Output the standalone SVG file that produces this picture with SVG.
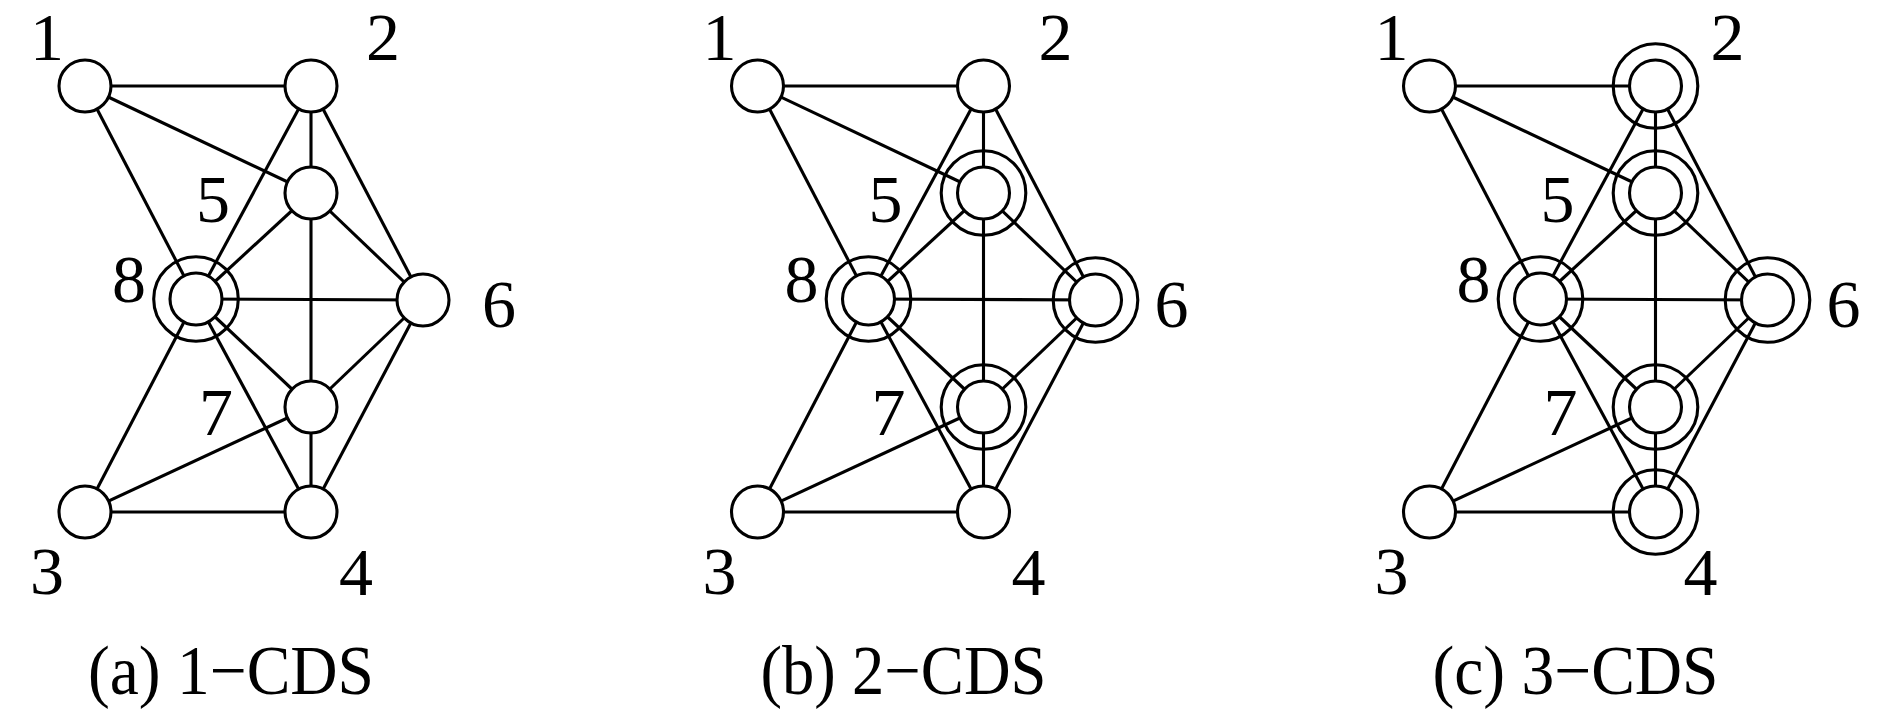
<svg xmlns="http://www.w3.org/2000/svg" width="1890" height="713" viewBox="0 0 1890 713">
<style>
.e{stroke:#000;stroke-width:3.1;fill:none}
.n{fill:#fff;stroke:#000;stroke-width:3.1}
.r{fill:none;stroke:#000;stroke-width:3.1}
</style>
<rect width="1890" height="713" fill="#fff"/>
<defs>
<g id="edges">
<line class="e" x1="85" y1="86" x2="311" y2="86"/>
<line class="e" x1="85" y1="86" x2="311" y2="193"/>
<line class="e" x1="85" y1="86" x2="196" y2="299"/>
<line class="e" x1="311" y1="86" x2="311" y2="193"/>
<line class="e" x1="311" y1="86" x2="196" y2="299"/>
<line class="e" x1="311" y1="86" x2="423" y2="300"/>
<line class="e" x1="311" y1="193" x2="196" y2="299"/>
<line class="e" x1="311" y1="193" x2="423" y2="300"/>
<line class="e" x1="311" y1="193" x2="311" y2="407"/>
<line class="e" x1="196" y1="299" x2="423" y2="300"/>
<line class="e" x1="196" y1="299" x2="311" y2="407"/>
<line class="e" x1="196" y1="299" x2="311" y2="512"/>
<line class="e" x1="196" y1="299" x2="85" y2="512"/>
<line class="e" x1="423" y1="300" x2="311" y2="407"/>
<line class="e" x1="423" y1="300" x2="311" y2="512"/>
<line class="e" x1="311" y1="407" x2="311" y2="512"/>
<line class="e" x1="311" y1="407" x2="85" y2="512"/>
<line class="e" x1="85" y1="512" x2="311" y2="512"/>
</g>
</defs>
<g id="connectors">
<use href="#edges"/>
<use href="#edges" x="672.5"/>
<use href="#edges" x="1344.5"/>
</g>

<g id="panel-a">
<g id="a-n1"><circle class="n" cx="85" cy="86" r="26"/><text font-family="Liberation Serif" font-size="68" text-anchor="middle" x="47" y="60">1</text></g>
<g id="a-n2"><circle class="n" cx="311" cy="86" r="26"/><text font-family="Liberation Serif" font-size="68" text-anchor="middle" x="383" y="60">2</text></g>
<g id="a-n5"><circle class="n" cx="311" cy="193" r="26"/><text font-family="Liberation Serif" font-size="68" text-anchor="middle" x="213" y="222">5</text></g>
<g id="a-n8"><circle class="r" cx="196" cy="299" r="42.3"/><circle class="n" cx="196" cy="299" r="26"/><text font-family="Liberation Serif" font-size="68" text-anchor="middle" x="129" y="302">8</text></g>
<g id="a-n6"><circle class="n" cx="423" cy="300" r="26"/><text font-family="Liberation Serif" font-size="68" text-anchor="middle" x="499" y="327">6</text></g>
<g id="a-n7"><circle class="n" cx="311" cy="407" r="26"/><text font-family="Liberation Serif" font-size="68" text-anchor="middle" x="216" y="435">7</text></g>
<g id="a-n3"><circle class="n" cx="85" cy="512" r="26"/><text font-family="Liberation Serif" font-size="68" text-anchor="middle" x="47" y="594">3</text></g>
<g id="a-n4"><circle class="n" cx="311" cy="512" r="26"/><text font-family="Liberation Serif" font-size="68" text-anchor="middle" x="356" y="595">4</text></g>
<text font-family="Liberation Serif" font-size="70" text-anchor="middle" x="231" y="694" textLength="286" lengthAdjust="spacingAndGlyphs">(a) 1−CDS</text>
</g>

<g id="panel-b" transform="translate(672.5,0)">
<g id="b-n1"><circle class="n" cx="85" cy="86" r="26"/><text font-family="Liberation Serif" font-size="68" text-anchor="middle" x="47" y="60">1</text></g>
<g id="b-n2"><circle class="n" cx="311" cy="86" r="26"/><text font-family="Liberation Serif" font-size="68" text-anchor="middle" x="383" y="60">2</text></g>
<g id="b-n5"><circle class="r" cx="311" cy="193" r="42.3"/><circle class="n" cx="311" cy="193" r="26"/><text font-family="Liberation Serif" font-size="68" text-anchor="middle" x="213" y="222">5</text></g>
<g id="b-n8"><circle class="r" cx="196" cy="299" r="42.3"/><circle class="n" cx="196" cy="299" r="26"/><text font-family="Liberation Serif" font-size="68" text-anchor="middle" x="129" y="302">8</text></g>
<g id="b-n6"><circle class="r" cx="423" cy="300" r="42.3"/><circle class="n" cx="423" cy="300" r="26"/><text font-family="Liberation Serif" font-size="68" text-anchor="middle" x="499" y="327">6</text></g>
<g id="b-n7"><circle class="r" cx="311" cy="407" r="42.3"/><circle class="n" cx="311" cy="407" r="26"/><text font-family="Liberation Serif" font-size="68" text-anchor="middle" x="216" y="435">7</text></g>
<g id="b-n3"><circle class="n" cx="85" cy="512" r="26"/><text font-family="Liberation Serif" font-size="68" text-anchor="middle" x="47" y="594">3</text></g>
<g id="b-n4"><circle class="n" cx="311" cy="512" r="26"/><text font-family="Liberation Serif" font-size="68" text-anchor="middle" x="356" y="595">4</text></g>
<text font-family="Liberation Serif" font-size="70" text-anchor="middle" x="231" y="694" textLength="286" lengthAdjust="spacingAndGlyphs">(b) 2−CDS</text>
</g>

<g id="panel-c" transform="translate(1344.5,0)">
<g id="c-n1"><circle class="n" cx="85" cy="86" r="26"/><text font-family="Liberation Serif" font-size="68" text-anchor="middle" x="47" y="60">1</text></g>
<g id="c-n2"><circle class="r" cx="311" cy="86" r="42.3"/><circle class="n" cx="311" cy="86" r="26"/><text font-family="Liberation Serif" font-size="68" text-anchor="middle" x="383" y="60">2</text></g>
<g id="c-n5"><circle class="r" cx="311" cy="193" r="42.3"/><circle class="n" cx="311" cy="193" r="26"/><text font-family="Liberation Serif" font-size="68" text-anchor="middle" x="213" y="222">5</text></g>
<g id="c-n8"><circle class="r" cx="196" cy="299" r="42.3"/><circle class="n" cx="196" cy="299" r="26"/><text font-family="Liberation Serif" font-size="68" text-anchor="middle" x="129" y="302">8</text></g>
<g id="c-n6"><circle class="r" cx="423" cy="300" r="42.3"/><circle class="n" cx="423" cy="300" r="26"/><text font-family="Liberation Serif" font-size="68" text-anchor="middle" x="499" y="327">6</text></g>
<g id="c-n7"><circle class="r" cx="311" cy="407" r="42.3"/><circle class="n" cx="311" cy="407" r="26"/><text font-family="Liberation Serif" font-size="68" text-anchor="middle" x="216" y="435">7</text></g>
<g id="c-n3"><circle class="n" cx="85" cy="512" r="26"/><text font-family="Liberation Serif" font-size="68" text-anchor="middle" x="47" y="594">3</text></g>
<g id="c-n4"><circle class="r" cx="311" cy="512" r="42.3"/><circle class="n" cx="311" cy="512" r="26"/><text font-family="Liberation Serif" font-size="68" text-anchor="middle" x="356" y="595">4</text></g>
<text font-family="Liberation Serif" font-size="70" text-anchor="middle" x="231" y="694" textLength="286" lengthAdjust="spacingAndGlyphs">(c) 3−CDS</text>
</g>
</svg>
